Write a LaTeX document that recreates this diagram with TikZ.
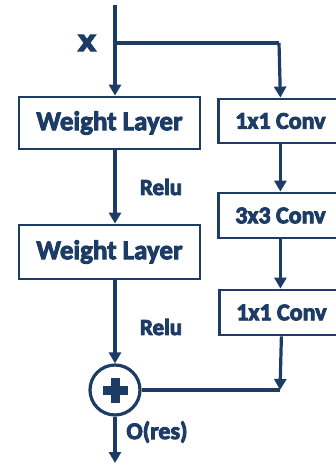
\documentclass[tikz,border=0pt]{standalone}
\usepackage{fontspec}
\setmainfont{Carlito}
\newfontfamily\xfont{DejaVu Sans}
\usetikzlibrary{arrows.meta}
\definecolor{navy}{RGB}{28,60,102}
\newcommand{\heavy}[1]{\special{pdf:literal direct 2 Tr 0.9 w}#1\special{pdf:literal direct 0 Tr}}
\begin{document}
\begin{tikzpicture}[x=1pt,y=-1pt,
  box/.style={draw=navy, line width=2.8pt, fill=white, text=navy,
    font=\bfseries\fontsize{27}{29}\selectfont, inner sep=0pt},
  cbox/.style={box, font=\bfseries\fontsize{24}{26}\selectfont, anchor=west,
    minimum width=124, minimum height=45},
  lbl/.style={text=navy, font=\bfseries\fontsize{23}{25}\selectfont, inner sep=0pt},
  arr/.style={draw=navy, line width=3.2pt, -{Triangle[length=11pt,width=12pt]}},
  ln/.style={draw=navy, line width=3.2pt}
]
\useasboundingbox (0,0) rectangle (336,465);
\clip (0,0) rectangle (336,465);
\fill[white] (0,0) rectangle (336,465);

\coordinate (top) at (115,5);
\coordinate (br) at (115,43);
\coordinate (bc) at (279,43);
\coordinate (k) at (280,390);
\coordinate (out) at (115,463);

\node[box, minimum width=181, minimum height=52] (w1) at (109.5,123) {\heavy{Weight Layer}};
\node[box, minimum width=181, minimum height=54] (w2) at (109.5,252) {\heavy{Weight Layer}};
\node[cbox, minimum height=44] (c1) at (217,121) {\heavy{1x1 Conv}};
\node[cbox] (c2) at (217,215.5) {\heavy{3x3 Conv}};
\node[cbox] (c3) at (218,312.5) {\heavy{1x1 Conv}};

\node[circle, draw=navy, line width=3.2pt, minimum size=50, inner sep=0pt] (p) at (115,390) {};
\fill[navy] (p.center) ++(-4.5,-12.5) rectangle ++(9,25);
\fill[navy] (p.center) ++(-12.5,-4.5) rectangle ++(25,9);

\node[text=navy, font=\xfont\bfseries\fontsize{30}{30}\selectfont, inner sep=0pt] (xl) at (87,43) {\heavy{x}};
\node[lbl] (r1) at (161,187) {\heavy{Relu}};
\node[lbl] (r2) at (161,327) {\heavy{Relu}};
\node[lbl, font=\bfseries\fontsize{24}{26}\selectfont] (o) at (157,432) {\heavy{O(res)}};

\draw[arr] (top) -- (top |- w1.north);
\draw[ln] (br) -- (bc);
\draw[arr] (bc) -- (c1.north);
\draw[arr] (w1.south -| top) -- (w2.north -| top);
\draw[arr] (w2.south -| top) -- (p.north);
\draw[arr] (c1.south) -- (c1.south |- c2.north);
\draw[arr] (c2.south) -- (c2.south |- c3.north);
\draw[arr] (c3.south) -- (k);
\draw[ln] (k) -- (p.east);
\draw[arr] (p.south) -- (out);
\end{tikzpicture}
\end{document}
